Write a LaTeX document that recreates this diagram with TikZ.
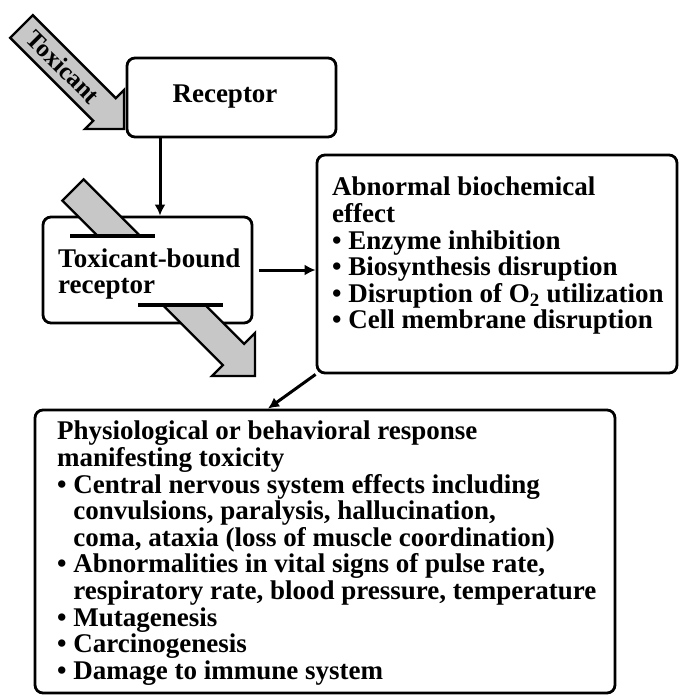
\documentclass[tikz,border=0pt]{standalone}
\usepackage{fontspec}
\setmainfont{Liberation Serif}
\usetikzlibrary{arrows.meta,calc}

\tikzset{
  box/.style={draw, line width=2.8pt, rounded corners=8pt, inner sep=0pt},
  fat/.style={draw, line width=2.4pt, fill=black!22, line join=miter},
  bar/.style={line width=3.4pt},
  conn/.style={line width=3pt, -{Latex[length=11pt,width=11pt]}},
  txt/.style={font=\fontsize{27}{26.6}\selectfont\bfseries, inner sep=0pt, align=left},
}
\newcommand{\contline}{\hphantom{\textbullet\ }}

\begin{document}
\begin{tikzpicture}[x=1pt,y=-1pt]
       \useasboundingbox (0,0) rectangle (678,695);

       % toxicant arrow
       \begin{scope}[shift={(21.5,26.5)}, rotate=-45]
         \draw[fat] (0,-16) -- (117.4,-16) -- (117.4,-27.6) -- (145,0) -- (117.4,27.6) -- (117.4,16) -- (0,16) -- cycle;
         \node[txt, font=\fontsize{25}{25}\selectfont\bfseries, rotate=-45] (toxicant) at (58,-1) {Toxicant};
       \end{scope}

       % boxes
       \node[box, minimum width=209pt, minimum height=79pt] (receptor) at (231.5,97.5) {};
       \node[box, minimum width=209pt, minimum height=106pt] (bound) at (147.5,270) {};
       \node[box, minimum width=360pt, minimum height=218pt] (effect) at (497,264) {};
       \node[box, minimum width=580pt, minimum height=283pt] (response) at (325,551.5) {};

       % texts
       \node[txt] (receptortxt) at (225,97) {Receptor};
       \node[txt, anchor=west] (boundtxt) at (58,274) {Toxicant-bound\\receptor};
       \node[txt, anchor=north west] (effecttxt) at (332,177) {Abnormal biochemical\\
         effect\\
         \textbullet{} Enzyme inhibition\\
         \textbullet{} Biosynthesis disruption\\
         \textbullet{} Disruption of O\textsubscript{2} utilization\\
         \textbullet{} Cell membrane disruption};
       \node[txt, anchor=north west] (responsetxt) at (57,421) {Physiological or behavioral response\\
         manifesting toxicity\\
         \textbullet{} Central nervous system effects including\\
         \contline convulsions, paralysis, hallucination,\\
         \contline coma, ataxia (loss of muscle coordination)\\
         \textbullet{} Abnormalities in vital signs of pulse rate,\\
         \contline respiratory rate, blood pressure, temperature\\
         \textbullet{} Mutagenesis\\
         \textbullet{} Carcinogenesis\\
         \textbullet{} Damage to immune system};

       % bound toxicant in and out
       \draw[fat] (83.6,179.4) -- (140.2,236) -- (97.8,236) -- (62.4,200.6) -- cycle;
       \draw[bar] (70,236) -- (155,236);
       \draw[fat] (162.8,305) -- (205.2,305) -- (244.1,343.9) -- (255,333) -- (255,376) -- (212,376) -- (222.9,365.1) -- cycle;
       \draw[bar] (138,305) -- (223,305);

       % connectors
       \draw[conn] ([xshift=-71.5pt]receptor.south) -- ([xshift=-71.5pt]receptor.south |- bound.north);
       \draw[conn] ([xshift=6pt]bound.east) -- (bound.east -| effect.west);
       \draw[conn] (effect.south west) -- ([xshift=-57pt]response.north);
\end{tikzpicture}
\end{document}
